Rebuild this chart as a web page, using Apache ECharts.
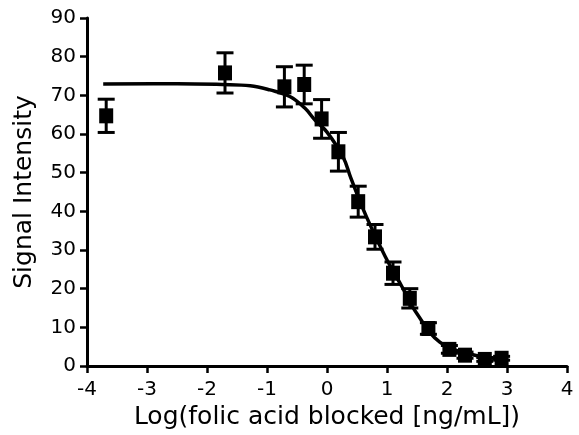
<!DOCTYPE html>
<html>
<head>
<meta charset="utf-8">
<script src="https://cdn.jsdelivr.net/npm/echarts@6/dist/echarts.min.js"></script>
<style>html,body{margin:0;padding:0;background:#fff;}#c{width:579px;height:435px;}</style>
</head>
<body>
<div id="c"></div>
<script>
var pointX = [-3.68, -1.7, -0.71, -0.38, -0.09, 0.19, 0.52, 0.8, 1.1, 1.38, 1.69, 2.04, 2.3, 2.63, 2.91];
var pointY = [64.7, 75.8, 72.2, 72.8, 63.9, 55.4, 42.5, 33.4, 24.0, 17.5, 9.7, 4.3, 2.8, 1.7, 2.0];
var pointErr = [4.3, 5.2, 5.2, 5.0, 5.0, 5.0, 4.0, 3.2, 2.9, 2.5, 1.5, 1.0, 0.8, 0.5, 0.5];
var curveX = [-3.73, -2.5, -1.75, -1.28, -0.95, -0.62, -0.37, -0.2, 0.0, 0.27, 0.4, 0.66, 0.97, 1.25, 1.5, 1.88, 2.38, 2.88];
var curveY = [72.9, 73.0, 72.8, 72.5, 71.4, 69.7, 66.7, 63.6, 60.5, 54.0, 48.5, 38.5, 28.3, 20.5, 13.5, 6.2, 3.1, 1.8];
var xTicks = [-4, -3, -2, -1, 0, 1, 2, 3, 4];
var yTicks = [0, 10, 20, 30, 40, 50, 60, 70, 80, 90];

var pts = pointX.map(function(x, i){ return [x, pointY[i]]; });
var errs = pointX.map(function(x, i){ return [x, pointY[i] - pointErr[i], pointY[i] + pointErr[i]]; });
var curve = curveX.map(function(x, i){ return [x, curveY[i]]; });

var font = '"DejaVu Sans", "Liberation Sans", Arial, sans-serif';
var chart = echarts.init(document.getElementById('c'), null, {renderer: 'canvas'});
chart.setOption({
  animation: false,
  backgroundColor: '#fff',
  grid: {left: 87, right: 12, top: 18, bottom: 69, containLabel: false},
  xAxis: {
    type: 'value', min: xTicks[0], max: xTicks[xTicks.length - 1], interval: 1,
    splitLine: {show: false},
    axisLine: {onZero: false, lineStyle: {color: '#000', width: 3}},
    axisTick: {length: 7, lineStyle: {color: '#000', width: 2.5}},
    axisLabel: {color: '#000', fontSize: 20, fontFamily: font, margin: 14},
    name: 'Log(folic acid blocked [ng/mL])', nameLocation: 'middle', nameGap: 39,
    nameTextStyle: {color: '#000', fontSize: 25, fontFamily: font}
  },
  yAxis: {
    type: 'value', min: yTicks[0], max: yTicks[yTicks.length - 1], interval: 10,
    splitLine: {show: false},
    axisLine: {onZero: false, lineStyle: {color: '#000', width: 3}},
    axisTick: {length: 7, lineStyle: {color: '#000', width: 2.5}},
    axisLabel: {color: '#000', fontSize: 20, fontFamily: font, margin: 11},
    name: 'Signal Intensity', nameLocation: 'middle', nameGap: 50, nameRotate: 90,
    nameTextStyle: {color: '#000', fontSize: 25, fontFamily: font}
  },
  series: [
    {
      type: 'line', data: curve, smooth: 0.4, showSymbol: false, symbol: 'none',
      lineStyle: {color: '#000', width: 3.5}, z: 3
    },
    {
      type: 'custom', data: errs, z: 4,
      renderItem: function(params, api){
        var x = api.value(0);
        var lo = api.coord([x, api.value(1)]);
        var hi = api.coord([x, api.value(2)]);
        var cw = 8.5;
        var st = {stroke: '#000', lineWidth: 3};
        return {type: 'group', children: [
          {type: 'line', shape: {x1: lo[0], y1: lo[1], x2: hi[0], y2: hi[1]}, style: st},
          {type: 'line', shape: {x1: lo[0]-cw, y1: lo[1], x2: lo[0]+cw, y2: lo[1]}, style: st},
          {type: 'line', shape: {x1: hi[0]-cw, y1: hi[1], x2: hi[0]+cw, y2: hi[1]}, style: st}
        ]};
      }
    },
    {
      type: 'scatter', data: pts, symbol: 'rect', symbolSize: [14, 15],
      itemStyle: {color: '#000', opacity: 1}, z: 5
    }
  ]
});
</script>
</body>
</html>
